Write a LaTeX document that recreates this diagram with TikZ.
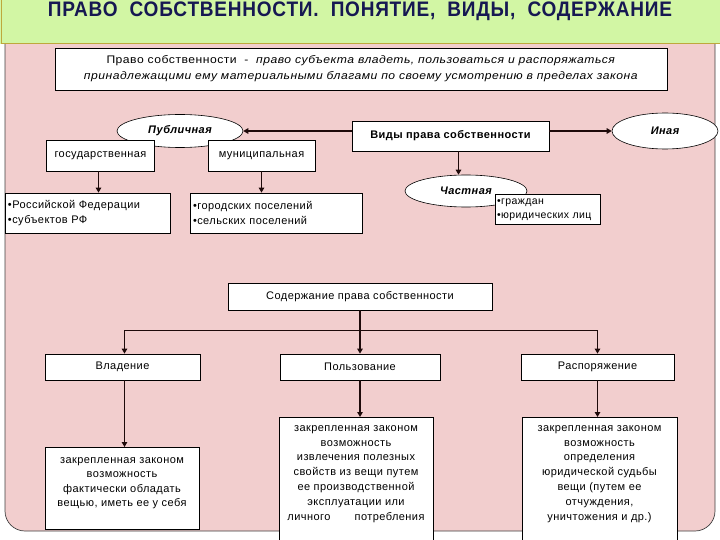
\documentclass[tikz,border=0pt]{standalone}
\usepackage{fontspec}
\usepackage{graphicx}
\setmainfont{Liberation Sans}[LetterSpace=4]
\usetikzlibrary{shapes.geometric,arrows.meta}
\definecolor{titlegreen}{RGB}{210,246,164}
\definecolor{titleedge}{RGB}{190,168,60}
\definecolor{pinkbg}{RGB}{242,206,206}
\definecolor{titleblue}{RGB}{22,24,82}
\definecolor{linedark}{RGB}{30,10,10}
\newcommand\mytopbox[4]{\parbox[c][#1][t]{#2}{\centering\rule{0pt}{#3}#4}}
\begin{document}
\begin{tikzpicture}[x=1pt,y=-1pt,
  box/.style={draw=black, line width=0.7pt, fill=white, inner sep=0pt, font=\fontsize{11}{15}\selectfont},
  oval/.style={ellipse, draw=black, line width=0.6pt, fill=white, inner sep=0pt, font=\fontsize{11}{13}\selectfont\bfseries\itshape},
  arr/.style={line width=1.8pt, draw=linedark, -{Triangle[length=5pt,width=5.5pt]}},
  bus/.style={line width=1.5pt, draw=linedark}
]
\useasboundingbox (0,0) rectangle (720,540);
\clip (0,0) rectangle (720,540);
% pink region
\draw[fill=pinkbg, draw=black!75, line width=0.7pt, rounded corners=20pt] (5,40) -- (5,531) -- (715,531) -- (715,40);
% title bar
\fill[titlegreen] (0,0) rectangle (720,44);
\draw[titleedge, line width=1.2pt] (1.5,0) -- (1.5,43.5) -- (720,43.5);
\node[text=titleblue, inner sep=0pt] (title) at (360,11)
  {\resizebox{624pt}{\height}{\fontsize{21}{21}\selectfont\bfseries ПРАВО\ \ СОБСТВЕННОСТИ.\ \ ПОНЯТИЕ,\ \ ВИДЫ,\ \ СОДЕРЖАНИЕ}};
% definition
\node[box, minimum width=612, minimum height=42, align=center, font=\fontsize{11}{16}\selectfont] (def) at (361,69)
  {\resizebox{509pt}{\height}{Право собственности\ \ -\ \ \textit{право субъекта владеть, пользоваться и распоряжаться}}\\
   \resizebox{554pt}{\height}{\textit{принадлежащими ему материальными благами по своему усмотрению в пределах закона}}};
% types
\node[oval, minimum width=126, minimum height=33] (pub) at (180,131) {Публичная};
\node[box, minimum width=108, minimum height=31] (gos) at (100.5,155.5) {государственная};
\node[box, minimum width=107, minimum height=31] (mun) at (261.5,155.5) {муниципальная};
\node[box, minimum width=197, minimum height=30, font=\fontsize{11}{13}\selectfont\bfseries] (vidy) at (450.5,136) {Виды права собственности};
\node[oval, minimum width=106, minimum height=36] (inaya) at (665,131) {Иная};
\node[oval, minimum width=122, minimum height=32] (chast) at (466,191) {Частная};
\node[box, minimum width=105, minimum height=30, align=left, text width=101, font=\fontsize{10.5}{14}\selectfont] (grazh) at (547.5,209.5) {•граждан\\•юридических лиц};
\node[box, minimum width=165, minimum height=40, align=left, text width=159] (rf) at (87.5,213) {•Российской Федерации\\•субъектов РФ};
\node[box, minimum width=172, minimum height=40, align=left, text width=166] (gor) at (276,213) {•городских поселений\\•сельских поселений};
\draw[arr] (vidy.west |- pub.east) -- (pub.east);
\draw[arr] (vidy.east |- inaya.west) -- (inaya.west);
\draw[arr] ([xshift=8pt]vidy.south) -- ([xshift=8pt]vidy.south |- chast.north);
\draw[arr] ([xshift=-2pt]gos.south) -- ([xshift=-2pt]gos.south |- rf.north);
\draw[arr] (mun.south) -- (mun.south |- gor.north);
% content
\node[box, minimum width=264, minimum height=27] (sod) at (360,296.5) {Содержание права собственности};
\node[box, minimum width=155, minimum height=26] (vlad) at (122.5,367) {Владение};
\node[box, minimum width=160, minimum height=26] (polz) at (360,367) {Пользование};
\node[box, minimum width=153, minimum height=26] (rasp) at (597.5,367) {Распоряжение};
\draw[bus] (sod.south) -- ++(0,20) coordinate (bj);
\draw[bus] ([xshift=2pt]vlad.north |- bj) -- (rasp.north |- bj);
\draw[arr] ([xshift=2pt]vlad.north |- bj) -- ([xshift=2pt]vlad.north);
\draw[arr] (bj) -- (polz.north);
\draw[arr] (rasp.north |- bj) -- (rasp.north);
\node[box, anchor=north, font=\fontsize{11}{14.5}\selectfont] (vlad2) at (122,447)
  {\mytopbox{82pt}{154pt}{16pt}{закрепленная законом\\возможность\\фактически обладать\\вещью, иметь ее у себя}};
\node[box, anchor=north, font=\fontsize{11}{14.8}\selectfont] (polz2) at (356,417)
  {\mytopbox{143pt}{154pt}{14pt}{закрепленная законом\\возможность\\извлечения полезных\\свойств из вещи путем\\ее производственной\\эксплуатации или\\личного\hspace{2.2em}потребления}};
\node[box, anchor=north, font=\fontsize{11}{14.8}\selectfont] (rasp2) at (599.5,417)
  {\mytopbox{143pt}{155pt}{14pt}{закрепленная законом\\возможность\\определения\\юридической судьбы\\вещи (путем ее\\отчуждения,\\уничтожения и др.)}};
\draw[arr] ([xshift=2pt]vlad.south) -- ([xshift=2pt]vlad.south |- vlad2.north);
\draw[arr] (polz.south) -- (polz.south |- polz2.north);
\draw[arr] (rasp.south) -- (rasp.south |- rasp2.north);
\end{tikzpicture}
\end{document}
